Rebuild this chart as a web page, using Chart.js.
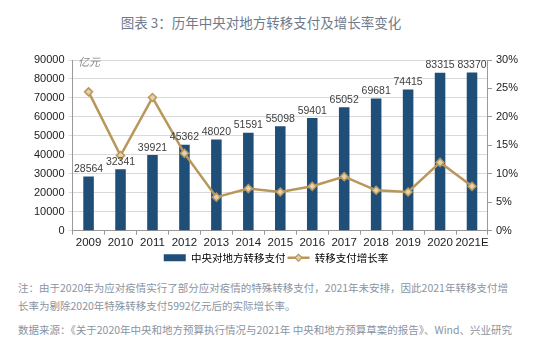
<!DOCTYPE html>
<html lang="zh">
<head>
<meta charset="UTF-8">
<title>历年中央对地方转移支付及增长率变化</title>
<script src="https://cdn.jsdelivr.net/npm/chart.js"></script>
<style>
  body { margin: 0; background: #fff; font-family: "Noto Sans CJK SC", sans-serif; }
  .page { position: relative; width: 554px; height: 352px; overflow: hidden; }
  .title { position: absolute; left: 0; width: 522px; top: 12px; text-align: center; font-size: 13.5px; color: #6f7b8c; }
  .chart-box { position: absolute; left: 0; top: 46px; width: 554px; height: 227px; }
  .unit { position: absolute; left: 78px; top: 53px; font-size: 11px; font-style: italic; color: #888; }
  .note { position: absolute; left: 18px; top: 279px; font-size: 10.5px; line-height: 18px; color: #8a94a2; white-space: nowrap; }
  .source { position: absolute; left: 18px; top: 322px; font-size: 10.5px; color: #8a94a2; white-space: nowrap; }
</style>
</head>
<body>
<div class="page">
  <div class="title">图表 3：历年中央对地方转移支付及增长率变化</div>
  <div class="chart-box"><canvas id="c"></canvas></div>
  <div class="unit">亿元</div>
  <div class="note">注：由于2020年为应对疫情实行了部分应对疫情的特殊转移支付，2021年未安排，因此2021年转移支付增<br>长率为剔除2020年特殊转移支付5992亿元后的实际增长率。</div>
  <div class="source">数据来源：《关于2020年中央和地方预算执行情况与2021年 中央和地方预算草案的报告》、Wind、兴业研究</div>
</div>
<script>
// 数据
const years = ["2009", "2010", "2011", "2012", "2013", "2014", "2015", "2016", "2017", "2018", "2019", "2020", "2021E"];
const transfers = [28564, 32341, 39921, 45362, 48020, 51591, 55098, 59401, 65052, 69681, 74415, 83315, 83370];
const growth = [24.4, 13.2, 23.4, 13.6, 5.9, 7.4, 6.8, 7.8, 9.5, 7.1, 6.8, 12.0, 7.8];

const numFont = "'Liberation Sans', Arial, sans-serif";
const lineColor = "#b9975b";

// 柱子上方的数值标签 + 图例里折线的小菱形
const extras = {
  id: "extras",
  afterDatasetsDraw(chart) {
    const ctx = chart.ctx;
    const meta = chart.getDatasetMeta(0);
    ctx.save();
    ctx.font = "10.5px " + numFont;
    ctx.fillStyle = "#404040";
    ctx.textAlign = "center";
    ctx.textBaseline = "bottom";
    meta.data.forEach((bar, i) => {
      ctx.fillText(transfers[i], bar.x, bar.y - 2);
    });
    ctx.restore();
  },
  afterDraw(chart) {
    const box = chart.legend.legendHitBoxes[1];
    if (!box) return;
    const ctx = chart.ctx;
    const cx = box.left + 11, cy = box.top + box.height / 2;
    ctx.save();
    ctx.fillStyle = "#e2d2ae";
    ctx.strokeStyle = lineColor;
    ctx.lineWidth = 1.2;
    ctx.beginPath();
    ctx.moveTo(cx, cy - 3.5); ctx.lineTo(cx + 3.5, cy); ctx.lineTo(cx, cy + 3.5); ctx.lineTo(cx - 3.5, cy);
    ctx.closePath();
    ctx.fill(); ctx.stroke();
    ctx.restore();
  }
};

new Chart(document.getElementById("c"), {
  data: {
    labels: years,
    datasets: [
      {
        type: "bar",
        label: "中央对地方转移支付",
        data: transfers,
        backgroundColor: "#1f4e79",
        barPercentage: 0.66,
        categoryPercentage: 0.5,
        yAxisID: "y",
        order: 2
      },
      {
        type: "line",
        label: "转移支付增长率",
        data: growth,
        borderColor: lineColor,
        backgroundColor: "#e2d2ae",
        borderWidth: 2.5,
        pointStyle: "rectRot",
        pointRadius: 4,
        pointBorderWidth: 1.5,
        pointBorderColor: lineColor,
        yAxisID: "y1",
        order: 1
      }
    ]
  },
  options: {
    responsive: true,
    maintainAspectRatio: false,
    animation: false,
    layout: { padding: { left: 30, right: 32, top: 14, bottom: 0 } },
    plugins: {
      tooltip: { enabled: false },
      legend: {
        position: "bottom",
        labels: {
          usePointStyle: true,
          pointStyleWidth: 22,
          boxHeight: 7,
          boxWidth: 22,
          padding: 2,
          color: "#222",
          font: { size: 10.5, family: "'Noto Sans CJK SC', sans-serif" },
          generateLabels(chart) {
            return chart.data.datasets.map((ds, i) => ({
              text: ds.label,
              fillStyle: ds.type === "bar" ? ds.backgroundColor : ds.borderColor,
              strokeStyle: ds.type === "bar" ? ds.backgroundColor : ds.borderColor,
              lineWidth: ds.type === "bar" ? 0 : 2.5,
              pointStyle: ds.type === "bar" ? "rect" : "line",
              datasetIndex: i,
              hidden: false
            }));
          }
        }
      }
    },
    scales: {
      x: {
        grid: { offset: true, drawOnChartArea: false, tickLength: 4, color: "#999" },
        border: { color: "#999" },
        ticks: { color: "#222", font: { size: 11.5, family: numFont }, padding: 1, maxRotation: 0, autoSkip: false }
      },
      y: {
        position: "left",
        min: 0,
        max: 90000,
        ticks: { stepSize: 10000, color: "#222", font: { size: 11, family: numFont }, padding: 4, callback: v => String(v) },
        grid: { color: "#d9d9d9", tickLength: 4 },
        border: { color: "#999" }
      },
      y1: {
        position: "right",
        min: 0,
        max: 30,
        ticks: { stepSize: 5, color: "#222", font: { size: 11, family: numFont }, padding: 4, callback: v => v + "%" },
        grid: { drawOnChartArea: false, tickLength: 4, color: "#999" },
        border: { color: "#999" }
      }
    }
  },
  plugins: [extras]
});
</script>
</body>
</html>
